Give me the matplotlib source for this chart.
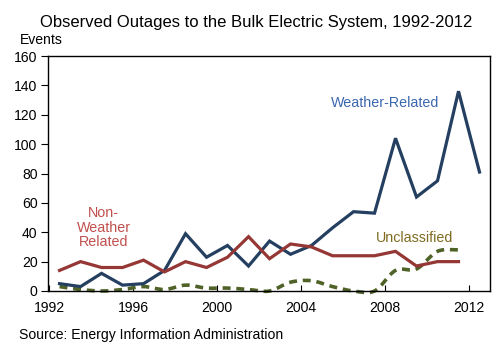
import numpy as np
import matplotlib
matplotlib.use("Agg")
import matplotlib.pyplot as plt
from matplotlib.path import Path
from matplotlib.patches import PathPatch

plt.rcParams['font.family'] = ['Liberation Sans', 'DejaVu Sans']

years = list(range(1992, 2013))
weather = [5, 3, 12, 4, 5, 14, 39, 23, 31, 17, 34, 25, 31, 43, 54, 53, 104, 64, 75, 136, 81]
non_weather = [14, 20, 16, 16, 21, 13, 20, 16, 23, 37, 22, 32, 30, 24, 24, 24, 27, 17, 20, 20]
unclassified = [3, 1, 0, 1, 3, 1, 4, 2, 2, 1, 0, 6, 7, 3, 0, 0, 14, 15, 27, 28]
x_ticks = [1992, 1996, 2000, 2004, 2008, 2012]
y_ticks = [0, 20, 40, 60, 80, 100, 120, 140, 160]

c_blue = '#243F60'
c_red = '#953735'
c_green = '#4F6228'

fig = plt.figure(figsize=(5.02, 3.54), dpi=100)
ax = fig.add_axes([48/502, 1 - 291/354, (490-48)/502, (291-56)/354])

xw = np.array(years[:len(weather)]) + 0.5
xn = np.array(years[:len(non_weather)]) + 0.5
xu = np.array(years[:len(unclassified)]) + 0.5

ax.plot(xw, weather, color=c_blue, lw=2.3, solid_joinstyle='miter', zorder=3)
ax.plot(xn, non_weather, color=c_red, lw=2.3, solid_joinstyle='miter', zorder=3)

# smoothed dashed line (Catmull-Rom style bezier through the data points)
pts = np.column_stack([xu, np.array(unclassified, dtype=float)])
verts = [tuple(pts[0])]
codes = [Path.MOVETO]
n = len(pts)
for i in range(n - 1):
    p0 = pts[i - 1] if i > 0 else pts[i]
    p1 = pts[i]
    p2 = pts[i + 1]
    p3 = pts[i + 2] if i + 2 < n else pts[i + 1]
    c1 = p1 + (p2 - p0) / 6.0
    c2 = p2 - (p3 - p1) / 6.0
    verts += [tuple(c1), tuple(c2), tuple(p2)]
    codes += [Path.CURVE4] * 3
patch = PathPatch(Path(verts, codes), facecolor='none', edgecolor=c_green,
                  lw=2.6, linestyle=(0, (2.2, 1.6)), zorder=2, clip_on=False)
ax.add_patch(patch)

ax.set_xlim(1991.95, 2013.0)
ax.set_ylim(0, 160)
ax.set_xticks(x_ticks)
ax.set_yticks(y_ticks)
ax.set_xticklabels([str(t) for t in x_ticks], fontsize=10.1)
ax.set_yticklabels([str(t) for t in y_ticks], fontsize=10.1)
ax.tick_params(axis='x', direction='in', length=4, width=0.8, pad=7)
ax.tick_params(axis='y', direction='out', length=5, width=0.8, pad=2.5)
for s in ax.spines.values():
    s.set_linewidth(1.0)
    s.set_color('black')

ax.text(2008.0, 128, 'Weather-Related', color='#3B67AE', fontsize=10.3,
        ha='center', va='center')
ax.text(2009.4, 36, 'Unclassified', color='#7F6A1F', fontsize=10.3,
        ha='center', va='center')
ax.text(1994.6, 43, 'Non-\nWeather\nRelated', color='#C0504D', fontsize=10.3,
        ha='center', va='center', linespacing=1.05)

fig.text(40/502, 1 - 22/354, 'Observed Outages to the Bulk Electric System, 1992-2012',
         fontsize=12.0, ha='left', va='center')
fig.text(20/502, 1 - 40/354, 'Events', fontsize=10.1, ha='left', va='center')
fig.text(19/502, 1 - 335/354, 'Source: Energy Information Administration',
         fontsize=10.1, ha='left', va='center')

fig.savefig('out.png', dpi=100)
